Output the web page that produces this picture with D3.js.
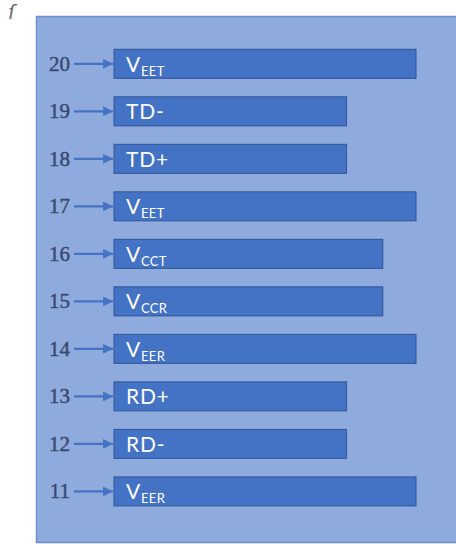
<!DOCTYPE html>
<html>
<head>
<meta charset="utf-8">
<script src="https://cdn.jsdelivr.net/npm/d3@7"></script>
<style>
  html, body { margin: 0; padding: 0; background: #ffffff; }
</style>
</head>
<body>
<div id="chart"></div>
<script>
// pin numbers, top to bottom
const pins = [20, 19, 18, 17, 16, 15, 14, 13, 12, 11];
// signal names: main part and subscript part
const labelMain = ["V", "TD-", "TD+", "V", "V", "V", "V", "RD+", "RD-", "V"];
const labelSub = ["EET", "", "", "EET", "CCT", "CCR", "EER", "", "", "EER"];
// bar lengths (relative units)
const barLength = [10, 7.7, 7.7, 10, 8.9, 8.9, 10, 7.7, 7.7, 10];

const W = 456, H = 544;

const svg = d3.select("#chart")
    .append("svg")
    .attr("width", W)
    .attr("height", H);

// arrow marker
svg.append("defs").append("marker")
    .attr("id", "arrow")
    .attr("viewBox", "0 0 10 10")
    .attr("refX", 10)
    .attr("refY", 5)
    .attr("markerWidth", 5)
    .attr("markerHeight", 4.5)
    .attr("markerUnits", "strokeWidth")
    .attr("orient", "auto")
    .append("path")
    .attr("d", "M0,0 L10,5 L0,10 Z")
    .attr("fill", "#4472c4");

// small stray mark in top-left corner
svg.append("text")
    .attr("x", 8)
    .attr("y", 19)
    .style("font-family", "'DejaVu Sans', sans-serif")
    .style("font-size", "19px")
    .style("font-style", "italic")
    .style("fill", "#6a6a6a")
    .text("ſ");

// background box
svg.append("rect")
    .attr("x", 36.5)
    .attr("y", 16.5)
    .attr("width", 430)
    .attr("height", 526)
    .attr("fill", "#8faadc")
    .attr("stroke", "#6f8fd0")
    .attr("stroke-width", 1.5);

const xScale = d3.scaleLinear()
    .domain([0, 10])
    .range([114, 416]);

const yScale = d3.scalePoint()
    .domain(pins)
    .range([63.8, 491.4]);

const barH = 29;

const rows = pins.map((p, i) => ({
    pin: p,
    main: labelMain[i],
    sub: labelSub[i],
    len: barLength[i]
}));

const row = svg.selectAll("g.row")
    .data(rows)
    .join("g")
    .attr("class", "row");

// bars
row.append("rect")
    .attr("x", xScale(0))
    .attr("y", d => yScale(d.pin) - barH / 2)
    .attr("width", d => xScale(d.len) - xScale(0))
    .attr("height", barH)
    .attr("fill", "#4472c4")
    .attr("stroke", "#2f5597")
    .attr("stroke-width", 1);

// arrows
row.append("line")
    .attr("x1", 74)
    .attr("x2", xScale(0) - 1)
    .attr("y1", d => yScale(d.pin))
    .attr("y2", d => yScale(d.pin))
    .attr("stroke", "#4472c4")
    .attr("stroke-width", 2.2)
    .attr("marker-end", "url(#arrow)");

// pin numbers
row.append("text")
    .attr("x", 70)
    .attr("y", d => yScale(d.pin) + 7)
    .attr("text-anchor", "end")
    .style("font-family", "'Liberation Serif', serif")
    .style("font-size", "21px")
    .style("fill", "#37476e")
    .style("stroke", "#37476e")
    .style("stroke-width", 0.4)
    .text(d => d.pin);

// signal names
const lbl = row.append("text")
    .attr("x", xScale(0) + 12)
    .attr("y", d => yScale(d.pin) + 8)
    .style("font-family", "Lato, sans-serif")
    .style("font-size", "21px")
    .style("letter-spacing", "0.8px")
    .style("fill", "#ffffff");

lbl.append("tspan").text(d => d.main);
lbl.append("tspan")
    .attr("dy", 4)
    .style("font-size", "13px")
    .style("letter-spacing", "0.3px")
    .text(d => d.sub);
</script>
</body>
</html>
